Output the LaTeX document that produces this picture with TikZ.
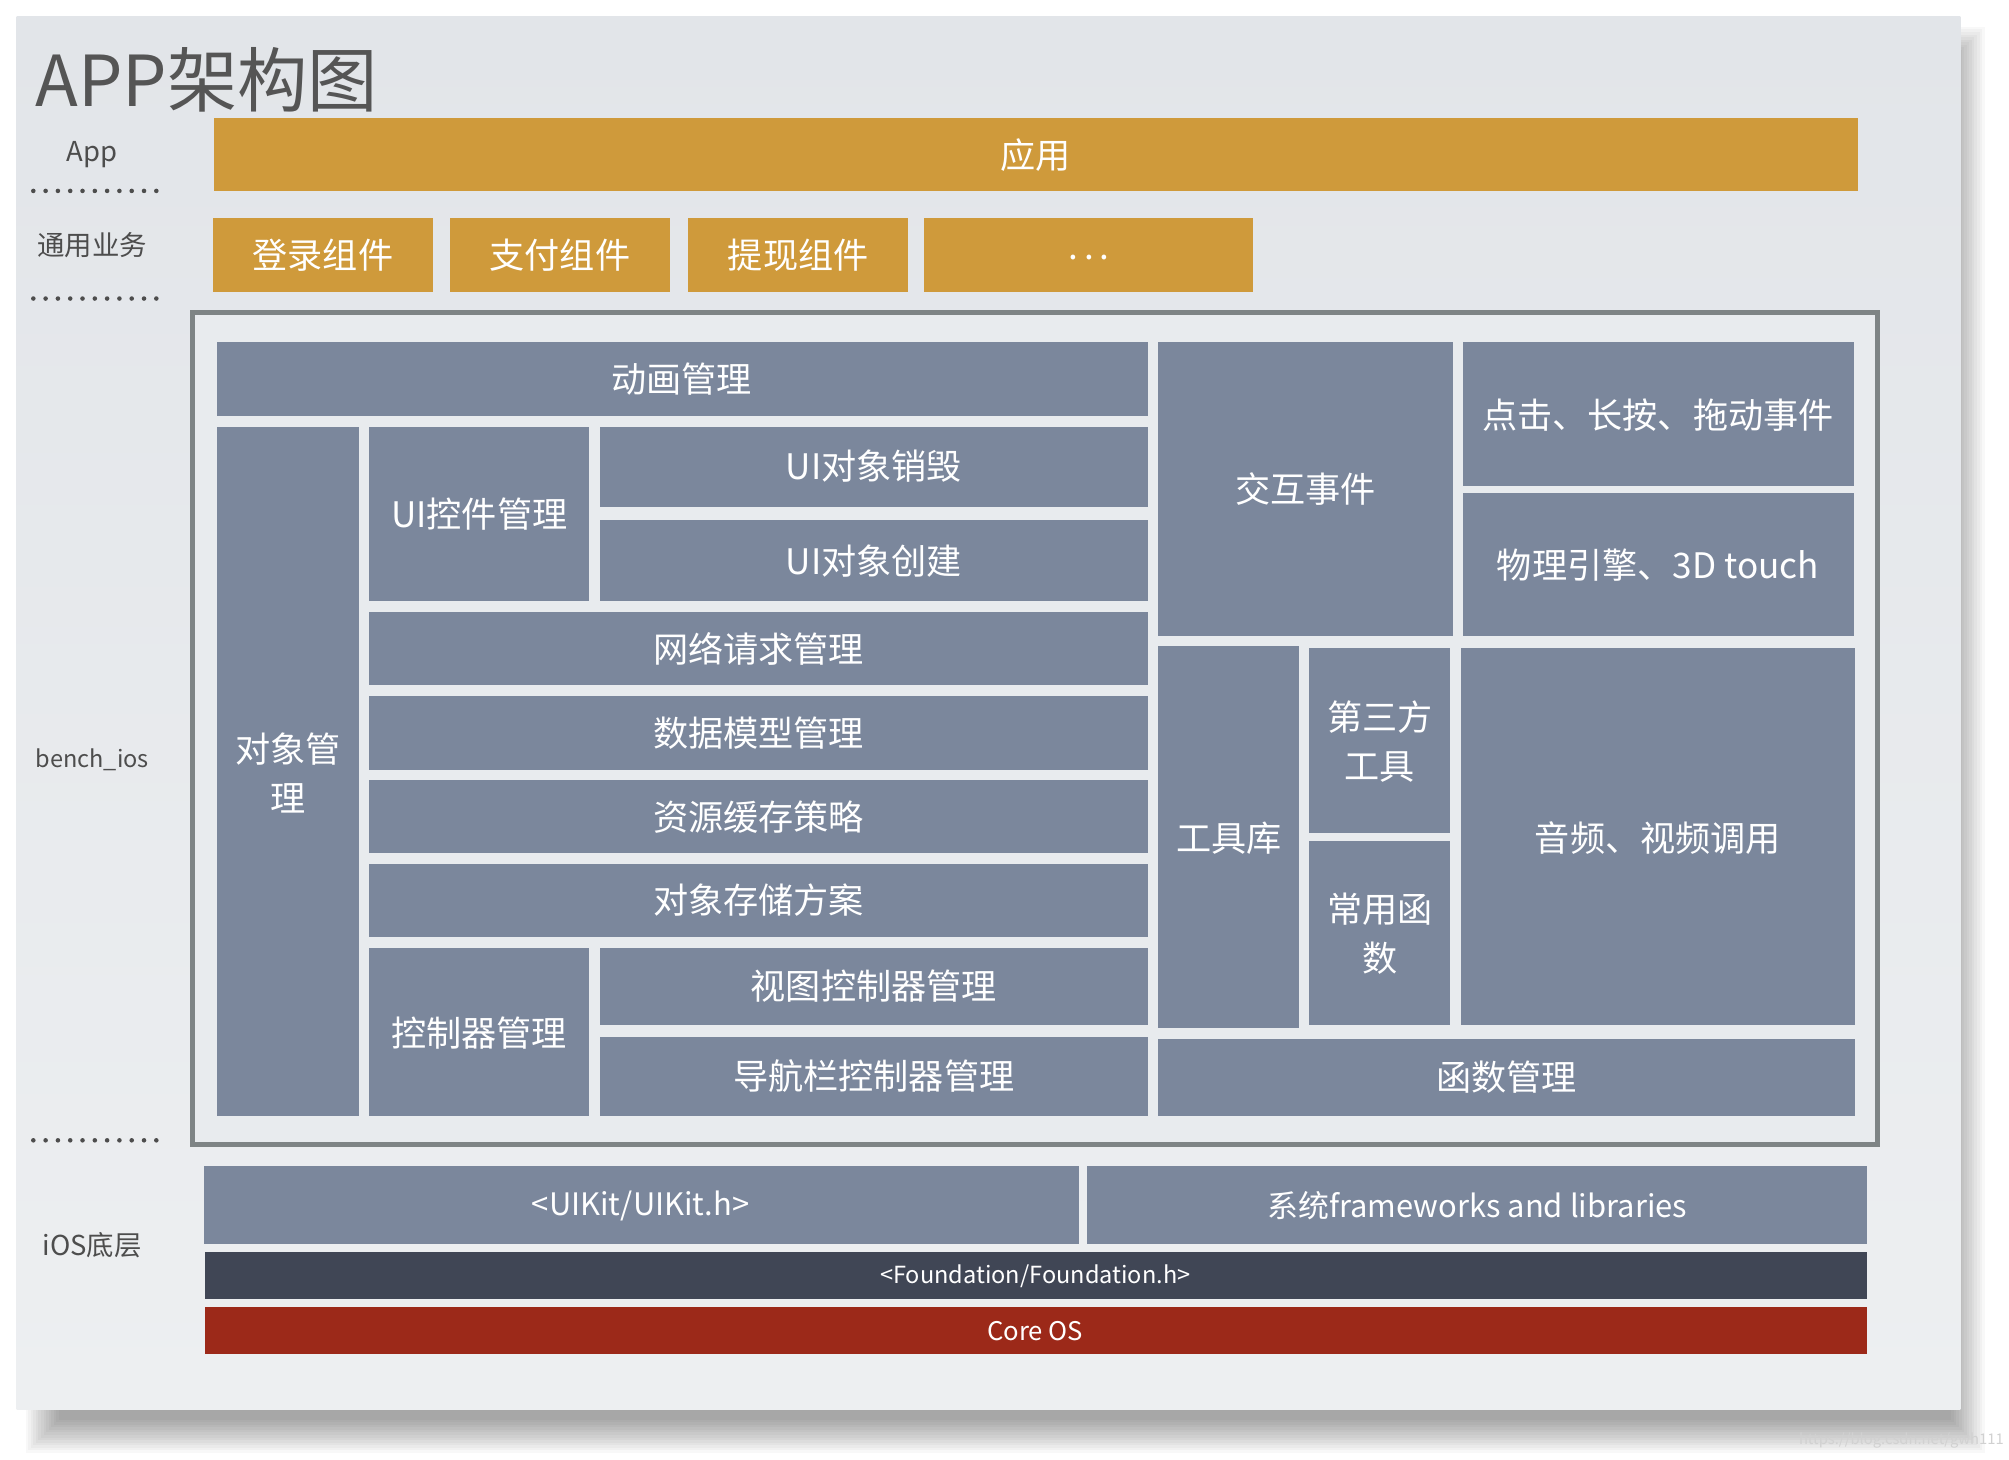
\documentclass[tikz,border=0pt]{standalone}
\usepackage{fontspec}
\setmainfont{Noto Sans CJK SC}

\definecolor{slidetop}{HTML}{E2E5E9}
\definecolor{slidebot}{HTML}{EDEFF1}
\definecolor{framebg}{HTML}{E8EBEE}
\definecolor{appgold}{HTML}{CF9A3B}
\definecolor{slate}{HTML}{7B879C}
\definecolor{inkdark}{HTML}{404655}
\definecolor{corered}{HTML}{9C2919}
\definecolor{framegray}{HTML}{7E8485}
\definecolor{labelgray}{HTML}{4D4D4D}
\definecolor{titlegray}{HTML}{555555}

\begin{document}
\begin{tikzpicture}[
  x=0.12813mm, y=-0.12813mm,
  every node/.style={font=\fontsize{10}{14}\selectfont, text=white, align=center},
  blk/.style={fill=slate},
  gold/.style={fill=appgold},
  side/.style={text=labelgray, font=\fontsize{7.8}{9}\selectfont},
  sep/.style={labelgray, line width=1.3pt, line cap=round, dash pattern=on 0pt off 3.5pt},
]

% ---- Page and slide ----
\useasboundingbox (0,0) rectangle (1568,1139);
\fill[white] (0,0) rectangle (1568,1139);
% soft shadow: nested rectangles
\foreach \k in {0,...,13} {
  \fill[black, opacity=0.028] (20+2*\k, 21+2*\k) rectangle (1549-2*\k, 1134-2*\k);
}
\shade[top color=slidetop, bottom color=slidebot] (13,13) rectangle (1530,1100);

% ---- Title ----
\node[anchor=west, inner sep=0, text=titlegray, font=\fontsize{20}{24}\selectfont]
  (title) at (27,62) {APP架构图};

% ---- Layer labels (left) ----
\node[side] (lapp)   at (72,121) {App};
\node[side] (lbiz)   at (72,191) {通用业务};
\node[side, font=\fontsize{6.7}{8}\selectfont] (lbench) at (72,593) {bench\_ios};
\node[side] (lios)   at (72,972) {iOS底层};

\foreach \y in {149, 233, 890} {
  \draw[sep] (26,\y) -- (123,\y);
}

% ---- App layer ----
\fill[gold] (167,92) rectangle (1450,149);
\node (app) at (808,121) {应用};

% ---- Business components ----
\foreach \xa/\xb/\name/\txt in {166/338/login/登录组件, 351/523/pay/支付组件,
                                537/709/cash/提现组件} {
  \fill[gold] (\xa,170) rectangle (\xb,228);
  \node (\name) at ({(\xa+\xb)/2},199) {\txt};
}
\fill[gold] (721,170) rectangle (978,228);
\node (more) at (850,201) {.\,.\,.};

% ---- bench_ios frame ----
\draw[framegray, line width=1.4pt, fill=framebg] (150,244) rectangle (1465,893);

% left part
\fill[blk] (169,267) rectangle (896,325);
\node (anim) at (532,296) {动画管理};

\fill[blk] (169,333) rectangle (280,871);
\node (obj) at (225,603) {对象管\\理};

\fill[blk] (288,333) rectangle (460,469);
\node (uictl) at (374,401) {UI控件管理};

\fill[blk] (468,333) rectangle (896,396);
\node (uidel) at (682,364) {UI对象销毁};
\fill[blk] (468,406) rectangle (896,469);
\node (uinew) at (682,438) {UI对象创建};

\foreach \ya/\yb/\name/\txt in {478/535/net/网络请求管理, 543/601/model/数据模型管理,
                                609/666/cache/资源缓存策略, 674/731/store/对象存储方案} {
  \fill[blk] (288,\ya) rectangle (896,\yb);
  \node (\name) at (592,{(\ya+\yb)/2}) {\txt};
}

\fill[blk] (288,740) rectangle (460,871);
\node (ctl) at (374,806) {控制器管理};

\fill[blk] (468,740) rectangle (896,800);
\node (vctl) at (682,770) {视图控制器管理};
\fill[blk] (468,809) rectangle (896,871);
\node (navctl) at (682,840) {导航栏控制器管理};

% right part
\fill[blk] (904,267) rectangle (1134,496);
\node (event) at (1019,382) {交互事件};

\fill[blk] (1142,267) rectangle (1447,379);
\node (touch) at (1294,324) {点击、长按、拖动事件};
\fill[blk] (1142,385) rectangle (1447,496);
\node (phys) at (1294,441) {物理引擎、3D touch};

\fill[blk] (904,504) rectangle (1014,802);
\node (tools) at (959,654) {工具库};

\fill[blk] (1022,506) rectangle (1132,650);
\node (third) at (1077,579) {第三方\\工具};
\fill[blk] (1022,656) rectangle (1132,800);
\node (func) at (1077,729) {常用函\\数};

\fill[blk] (1140,506) rectangle (1448,800);
\node (media) at (1294,654) {音频、视频调用};

\fill[blk] (904,811) rectangle (1448,871);
\node (funcmgr) at (1176,841) {函数管理};

% ---- iOS layer ----
\fill[blk] (159,910) rectangle (842,971);
\node[font=\fontsize{8.8}{11}\selectfont] (uikit) at (500,941) {<UIKit/UIKit.h>};
\fill[blk] (848,910) rectangle (1457,971);
\node[font=\fontsize{8.8}{11}\selectfont] (sysfw) at (1153,941) {系统frameworks and libraries};

\fill[inkdark] (160,977) rectangle (1457,1014);
\node[font=\fontsize{6.7}{8}\selectfont] (found) at (808,996) {<Foundation/Foundation.h>};

\fill[corered] (160,1020) rectangle (1457,1057);
\node[font=\fontsize{7.3}{9}\selectfont] (coreos) at (808,1039) {Core OS};

% ---- Watermark ----
\node[text=black!18, font=\fontsize{4.2}{5}\selectfont] (mark) at (1484,1124)
  {https://blog.csdn.net/gwh111};

\end{tikzpicture}
\end{document}
